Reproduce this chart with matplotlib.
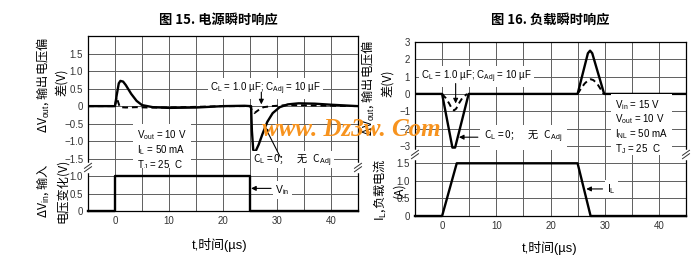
import matplotlib.pyplot as plt
from matplotlib.lines import Line2D

plt.rcParams['font.family'] = ['Liberation Sans', 'Noto Sans CJK SC']
plt.rcParams['mathtext.fontset'] = 'custom'
plt.rcParams['mathtext.rm'] = 'Liberation Sans'
plt.rcParams['mathtext.it'] = 'Liberation Sans:italic'
plt.rcParams['mathtext.bf'] = 'Liberation Sans:bold'

CJK = ['Noto Sans CJK SC', 'Liberation Sans']

# ---- shared x axis (t, us)
x_major = [0, 10, 20, 30, 40]
x_minor = [-5, 5, 15, 25, 35, 45]
x_labels = ['0', '10', '20', '30', '40']

# ---- fig 15: line transient
t15_cl0 = [-5, 0, 0.3, 0.7, 1.0, 1.5, 2.0, 3.0, 4.0, 5.0, 7, 10, 15, 20, 24, 25.2,
           25.35, 25.6, 26.0, 26.6, 27.3, 28.2, 29.2, 30.5, 32, 34, 37, 40, 45]
v15_cl0 = [0, 0, 0.3, 0.65, 0.72, 0.70, 0.6, 0.35, 0.15, 0.03, -0.03, -0.05, -0.04, 0.0, 0.01, 0.0,
           -0.7, -1.25, -1.3, -1.1, -0.8, -0.45, -0.2, -0.03, 0.05, 0.08, 0.07, 0.04, 0.0]
t15_cl1 = [-5, 0, 0.3, 0.9, 2, 4, 6, 10, 20, 25, 25.3, 25.8, 26.5, 27.5, 29, 32, 45]
v15_cl1 = [0, 0, 0.25, -0.03, -0.04, -0.03, -0.04, -0.04, 0.0, 0.0, -0.1, -0.2, -0.12, -0.03, 0.0, 0.03, 0.0]
t15_vin = [-5, 0, 0, 25, 25, 45]
v15_vin = [0, 0, 1, 1, 0, 0]
y15_top_ticks = [-1.5, -1.0, -0.5, 0, 0.5, 1.0, 1.5]
y15_top_labels = ['\u22121.5', '\u22121.0', '\u22120.5', '0', '0.5', '1.0', '1.5']
y15_bot_ticks = [0, 0.5, 1.0]
y15_bot_labels = ['0', '0.5', '1.0']

# ---- fig 16: load transient
t16_cl0 = [-5, 0, 1.9, 2.4, 4.9, 25, 26.9, 27.3, 27.7, 29.9, 45]
v16_cl0 = [0, 0, -3.1, -3.1, 0, 0, 2.35, 2.5, 2.35, 0, 0]
t16_cl1a = [0, 0.7, 1.3, 1.8, 2.2, 2.6, 3.1, 3.7, 4.6]
v16_cl1a = [0, -0.25, -0.55, -0.85, -0.95, -0.85, -0.55, -0.25, 0]
t16_cl1b = [25, 25.6, 26.3, 27.0, 27.4, 27.9, 28.6, 29.2, 29.8]
v16_cl1b = [0, 0.3, 0.6, 0.8, 0.85, 0.8, 0.6, 0.3, 0]
t16_il = [-5, 0, 2.7, 25, 27.4, 45]
v16_il = [0, 0, 1.5, 1.5, 0, 0]
y16_top_ticks = [-3, -2, -1, 0, 1, 2, 3]
y16_top_labels = ['\u22123', '\u22122', '\u22121', '0', '1', '2', '3']
y16_bot_ticks = [0, 0.5, 1.0, 1.5]
y16_bot_labels = ['0', '0.5', '1.0', '1.5']

W, H = 697, 259
fig = plt.figure(figsize=(W / 100, H / 100), dpi=100)


def box(x0, y0, x1, y1):
    return [x0 / W, 1 - y1 / H, (x1 - x0) / W, (y1 - y0) / H]


def style(ax, ticks, labels, ylim, part):
    ax.set_xlim(-5, 45)
    ax.set_ylim(*ylim)
    ax.set_xticks(x_major)
    ax.set_xticklabels(x_labels)
    ax.set_xticks(x_minor, minor=True)
    ax.set_yticks(ticks)
    ax.set_yticklabels(labels)
    ax.grid(True, which='both', color='#5e5e5e', lw=0.7)
    ax.set_axisbelow(True)
    ax.tick_params(which='both', length=0, labelsize=7, colors='#333333', pad=3.5)
    for s in ax.spines.values():
        s.set_linewidth(0.9)
    if part == 'top':
        ax.spines['bottom'].set_visible(False)
        ax.tick_params(labelbottom=False)
    else:
        ax.spines['top'].set_visible(False)


ax15t = fig.add_axes(box(88, 36, 358, 167.5))
ax15b = fig.add_axes(box(88, 167.5, 358, 211))
ax16t = fig.add_axes(box(415, 42, 686, 154.5))
ax16b = fig.add_axes(box(415, 154.5, 686, 216))
style(ax15t, y15_top_ticks, y15_top_labels, (-1.75, 2.0), 'top')
style(ax15b, y15_bot_ticks, y15_bot_labels, (0, 1.25), 'bot')
style(ax16t, y16_top_ticks, y16_top_labels, (-3.5, 3.0), 'top')
style(ax16b, y16_bot_ticks, y16_bot_labels, (0, 1.75), 'bot')

solid = dict(color='black', lw=1.7, solid_joinstyle='round')
dash = dict(color='black', lw=1.4, ls=(0, (3, 2)))

ax15t.plot(t15_cl1, v15_cl1, **dash)
ax15t.plot(t15_cl0, v15_cl0, **solid)
ax15b.plot(t15_vin, v15_vin, clip_on=False, **solid)
ax16t.plot(t16_cl1a, v16_cl1a, **dash)
ax16t.plot(t16_cl1b, v16_cl1b, **dash)
ax16t.plot(t16_cl0, v16_cl0, **solid)
ax16b.plot(t16_il, v16_il, clip_on=False, **solid)

wbox = dict(facecolor='white', edgecolor='none', pad=1.5)
arr = dict(arrowstyle='-|>', color='black', lw=0.8, mutation_scale=7, shrinkA=0, shrinkB=0)

# fig 15 annotations
ax15t.text(27.9, 0.5, r'C$_{\rm L}$ = 1.0 µF; C$_{\rm Adj}$ = 10 µF', fontsize=7, ha='center', va='center', bbox=wbox)
ax15t.annotate('', xy=(27.1, 0.05), xytext=(27.1, 0.4), arrowprops=arr)
ax15t.text(4.1, -1.25, 'V$_{\\rm out}$ = 10 V\nI$_{\\rm L}$ = 50 mA\nT$_{\\rm J}$ = 25  C', fontsize=7,
           ha='left', va='center', linespacing=1.15, bbox=dict(facecolor='white', edgecolor='none', pad=3))
ax15t.text(25.6, -1.57, r'C$_{\rm L}$ = 0;      无   C$_{\rm Adj}$', fontsize=7.3, family=CJK,
           ha='left', va='center', bbox=wbox)
ax15t.annotate('', xy=(27.8, -0.6), xytext=(30.6, -1.45), arrowprops=arr)
ax15b.text(29.7, 0.6, r'V$_{\rm in}$', fontsize=7.5, ha='left', va='center', bbox=wbox)
ax15b.annotate('', xy=(25.2, 0.65), xytext=(28.9, 0.65), arrowprops=arr)

# fig 16 annotations
ax16t.text(6.3, 1.0, r'C$_{\rm L}$ = 1.0 µF; C$_{\rm Adj}$ = 10 µF', fontsize=7, ha='center', va='center', bbox=wbox)
ax16t.annotate('', xy=(2.5, -0.55), xytext=(2.5, 0.6), arrowprops=arr)
ax16t.text(7.8, -2.5, r'C$_{\rm L}$ = 0;      无   C$_{\rm Adj}$', fontsize=7.3, family=CJK,
           ha='left', va='center', bbox=dict(facecolor='white', edgecolor='none', pad=3))
ax16t.annotate('', xy=(3.1, -2.5), xytext=(6.6, -2.5), arrowprops=arr)
ax16t.text(31.9, -1.9, 'V$_{\\rm in}$ = 15 V\nV$_{\\rm out}$ = 10 V\nI$_{\\rm NL}$ = 50 mA\nT$_{\\rm J}$ = 25  C',
           fontsize=7, ha='left', va='center', linespacing=1.1, bbox=dict(facecolor='white', edgecolor='none', pad=3))
ax16b.text(30.4, 0.77, r'I$_{\rm L}$', fontsize=7.5, ha='left', va='center', bbox=wbox)
ax16b.annotate('', xy=(26.6, 0.77), xytext=(29.6, 0.77), arrowprops=arr)

# titles, axis labels
fig.text(218 / W, 1 - 20 / H, '图 15. 电源瞬时响应', ha='center', va='center', fontsize=9.5, fontweight='bold', family=CJK)
fig.text(550 / W, 1 - 20 / H, '图 16. 负载瞬时响应', ha='center', va='center', fontsize=9.5, fontweight='bold', family=CJK)
fig.text(220 / W, 1 - 245 / H, 't,时间(µs)', ha='center', va='center', fontsize=9.3)
fig.text(550 / W, 1 - 248 / H, 't,时间(µs)', ha='center', va='center', fontsize=9.3)

ylab = dict(rotation=90, ha='center', va='center', fontsize=8.8, family=CJK)
fig.text(43 / W, 1 - 85 / H, r'ΔV$_{\rm out}$, 输出电压偏', **ylab)
fig.text(62 / W, 1 - 82 / H, '差(V)', **ylab)
fig.text(43 / W, 1 - 191 / H, r'ΔV$_{\rm in}$, 输入', **ylab)
fig.text(62 / W, 1 - 191 / H, '电压变化(V)', **ylab)
fig.text(368 / W, 1 - 88 / H, r'ΔV$_{\rm out}$, 输出电压偏', **ylab)
fig.text(388 / W, 1 - 83 / H, '差(V)', **ylab)
fig.text(380 / W, 1 - 190 / H, r'I$_{\rm L}$,负载电流', **ylab)
fig.text(399 / W, 1 - 190 / H, '(A)', **ylab)

# axis break marks
for bx, by in [(88, 167.5), (358, 167.5), (415, 154.5), (686, 154.5)]:
    fig.add_artist(Line2D([bx / W, bx / W], [1 - (by - 3.5) / H, 1 - (by + 3.5) / H], color='white', lw=2.5,
                          transform=fig.transFigure))
    for d in (-1.7, 1.7):
        fig.add_artist(Line2D([(bx - 3.5) / W, (bx + 3.5) / W], [1 - (by + d + 2.5) / H, 1 - (by + d - 2.5) / H],
                              color='#333333', lw=0.7, transform=fig.transFigure))

# watermark
fig.text(351 / W, 1 - 129 / H, 'www. Dz3w. Com', color='#F7931E', fontsize=18, style='italic',
         fontweight='bold', family='Liberation Serif', ha='center', va='center', zorder=20)

fig.savefig('out.png', dpi=100)
